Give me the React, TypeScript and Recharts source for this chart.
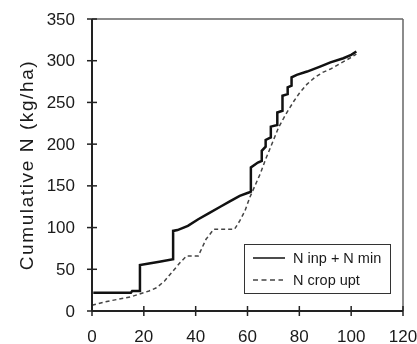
import React from 'react';
import { LineChart, Line, XAxis, YAxis, ReferenceLine } from 'recharts';

const xTicks = [0, 20, 40, 60, 80, 100, 120];
const yTicks = [0, 50, 100, 150, 200, 250, 300, 350];

const inpX = [0.5, 15, 15.5, 18.5, 18.5, 22, 26, 31.3, 31.3, 33, 37, 41, 45, 49.5, 53, 57, 60.5, 61.3, 61.3, 64, 65.5, 65.5, 67, 67, 69, 69, 71.5, 71.5, 73.5, 73.5, 75.5, 75.5, 77, 77, 79, 83, 88, 92, 97, 100, 102];
const inpY = [22, 22, 24, 24, 55, 57, 59, 62, 96, 97, 102, 110, 117, 125, 131, 138, 142, 143, 172, 178, 180, 192, 197, 205, 208, 221, 223, 238, 240, 258, 260, 268, 270, 280, 283, 287, 293, 298, 303, 307, 311];

const uptX = [0, 5, 10, 15, 18, 22, 25, 28, 31, 34, 36.5, 41, 44, 47, 55, 57, 59, 61, 63, 65, 67, 69, 72, 75, 78, 80, 83, 86, 89, 92, 96, 100, 102];
const uptY = [7, 11, 14, 17, 20, 24, 28, 36, 47, 58, 66, 66, 86, 98, 98, 108, 120, 137, 151, 165, 182, 197, 220, 237, 252, 261, 272, 280, 286, 290, 297, 304, 308];

const inpData = inpX.map((x, i) => ({ x, y: inpY[i] }));
const uptData = uptX.map((x, i) => ({ x, y: uptY[i] }));

const FONT = '"Liberation Sans", Arial, sans-serif';

const YTick = (props: any) => {
  const { x, y, payload } = props;
  return (
    <g>
      <line x1={x - 5} x2={x + 5} y1={y} y2={y} stroke="#222" strokeWidth={1.5} />
      <text x={x - 17} y={y} textAnchor="end" dominantBaseline="central" fontSize={17} fontFamily={FONT} fill="#1a1a1a">
        {payload.value}
      </text>
    </g>
  );
};

const XTick = (props: any) => {
  const { x, y, payload } = props;
  return (
    <g>
      <line x1={x} x2={x} y1={y - 5} y2={y + 5} stroke="#222" strokeWidth={1.5} />
      <text x={x} y={y + 25} textAnchor="middle" dominantBaseline="central" fontSize={17} fontFamily={FONT} fill="#1a1a1a">
        {payload.value}
      </text>
    </g>
  );
};

const YLabel = (props: any) => {
  const vb = props.viewBox || { x: 0, y: 11, width: 84, height: 292 };
  const cx = vb.x + 18;
  const cy = vb.y + vb.height / 2;
  return (
    <text
      x={cx}
      y={cy}
      transform={`rotate(-90 ${cx} ${cy})`}
      textAnchor="middle"
      dominantBaseline="central"
      fontSize={19}
      letterSpacing={1.6}
      fontFamily={FONT}
      fill="#1a1a1a"
    >
      Cumulative N (kg/ha)
    </text>
  );
};

export default function App() {
  return (
    <div style={{ position: 'fixed', left: 8, top: 8, width: 409, height: 336 }}>
      <style>{`.recharts-surface, .recharts-wrapper { overflow: visible !important; }`}</style>
      <LineChart width={409} height={336} margin={{ top: 11, right: 14, bottom: 0, left: 0 }}>
        <XAxis
          type="number"
          dataKey="x"
          domain={[0, 120]}
          ticks={xTicks}
          height={33}
          tickSize={0}
          tickMargin={0}
          tickLine={false}
          tick={<XTick />}
          axisLine={{ stroke: '#222', strokeWidth: 2 }}
          allowDuplicatedCategory={false}
        />
        <YAxis
          type="number"
          dataKey="y"
          domain={[0, 350]}
          ticks={yTicks}
          width={84}
          tickSize={0}
          tickMargin={0}
          tickLine={false}
          tick={<YTick />}
          axisLine={{ stroke: '#222', strokeWidth: 2 }}
          label={<YLabel />}
        />
        <ReferenceLine y={350} stroke="#666" strokeWidth={1.5} />
        <ReferenceLine x={120} stroke="#666" strokeWidth={1.5} />
        <Line
          data={uptData}
          dataKey="y"
          type="linear"
          stroke="#444"
          strokeWidth={1.5}
          strokeDasharray="4 3"
          dot={false}
          isAnimationActive={false}
        />
        <Line
          data={inpData}
          dataKey="y"
          type="linear"
          stroke="#111"
          strokeWidth={2.5}
          dot={false}
          isAnimationActive={false}
        />
      </LineChart>
      <div
        style={{
          position: 'absolute',
          left: 236,
          top: 236,
          width: 147,
          height: 50,
          border: '1.5px solid #333',
          background: '#fff',
          boxSizing: 'border-box',
        }}
      >
        <svg width={144} height={47} style={{ display: 'block' }}>
          <line x1={8} x2={40} y1={13} y2={13} stroke="#111" strokeWidth={1.5} />
          <text x={48} y={13} dominantBaseline="central" fontSize={14.5} fontFamily={FONT} fill="#1a1a1a">
            N inp + N min
          </text>
          <line x1={8} x2={38} y1={35} y2={35} stroke="#444" strokeWidth={1.5} strokeDasharray="5 3.5" />
          <text x={48} y={35} dominantBaseline="central" fontSize={14.5} fontFamily={FONT} fill="#1a1a1a">
            N crop upt
          </text>
        </svg>
      </div>
    </div>
  );
}
